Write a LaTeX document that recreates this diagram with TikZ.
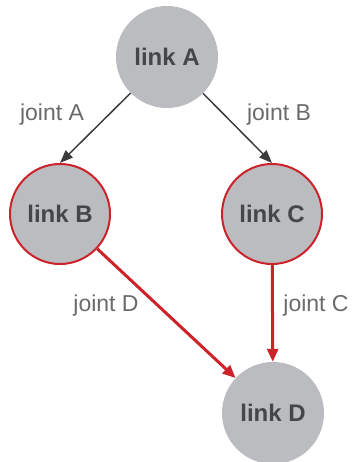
\documentclass[tikz,border=0pt]{standalone}
\usepackage{fontspec}
\setmainfont{Liberation Sans}
\usetikzlibrary{arrows.meta}
\definecolor{nodefill}{HTML}{BBBCC0}
\definecolor{nodetext}{HTML}{45464A}
\definecolor{redc}{HTML}{CC2229}
\definecolor{edgegray}{HTML}{3C3C3C}
\definecolor{labgray}{HTML}{6A6A6A}
\begin{document}
\begin{tikzpicture}[x=1pt,y=-1pt,
  link/.style={circle,fill=nodefill,minimum size=102pt,inner sep=0pt,
    font=\fontsize{24}{28}\selectfont\bfseries,text=nodetext},
  redlink/.style={link,draw=redc,line width=2pt,minimum size=100pt},
  joint/.style={font=\fontsize{23}{27}\selectfont,text=labgray},
  grayedge/.style={draw=edgegray,line width=1.5pt,-{Triangle[length=13pt,width=10pt]}},
  rededge/.style={draw=redc,line width=3pt,-{Triangle[length=13pt,width=11pt]}}]
\useasboundingbox (0,0) rectangle (351,462);
\node[link] (A) at (167,57) {link A};
\node[redlink] (B) at (60,214) {link B};
\node[redlink] (C) at (272,214) {link C};
\node[link] (D) at (273,413) {link D};
\draw[grayedge] (A) -- (B.north);
\draw[grayedge] (A) -- (C.north);
\draw[rededge] (B) -- (D);
\draw[rededge] (C) -- (D);
\node[joint] (jA) at (52,115) {joint A};
\node[joint] (jB) at (279,115) {joint B};
\node[joint] (jD) at (106,306) {joint D};
\node[joint] (jC) at (316,306) {joint C};
\end{tikzpicture}
\end{document}
